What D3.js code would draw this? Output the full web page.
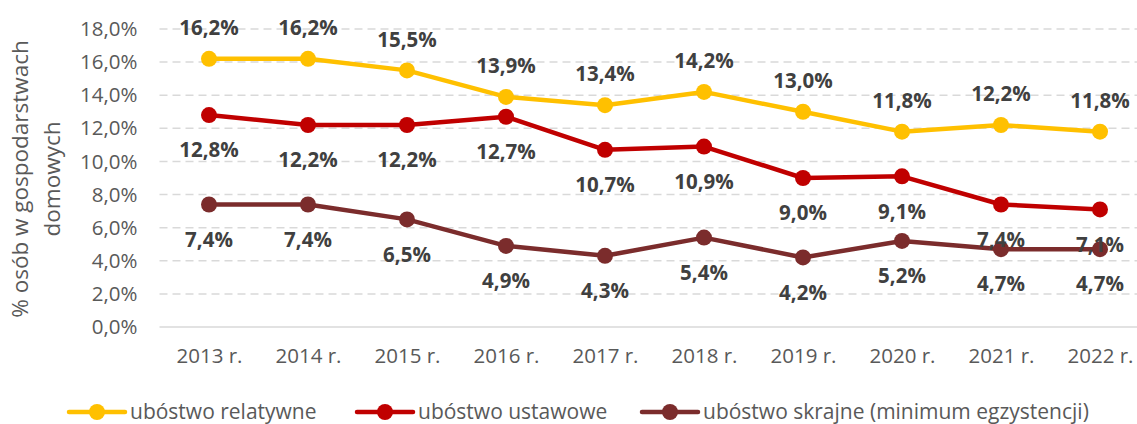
<!DOCTYPE html>
<html><head><meta charset="utf-8">
<script src="https://cdn.jsdelivr.net/npm/d3@7"></script>
<style>body{margin:0;background:#fff}svg{display:block}</style>
</head><body>
<svg id="c" width="1137" height="424"></svg>
<script>
const years = ["2013 r.","2014 r.","2015 r.","2016 r.","2017 r.","2018 r.","2019 r.","2020 r.","2021 r.","2022 r."];
const relatywne = [16.2,16.2,15.5,13.9,13.4,14.2,13.0,11.8,12.2,11.8];
const ustawowe = [12.8,12.2,12.2,12.7,10.7,10.9,9.0,9.1,7.4,7.1];
const skrajne = [7.4,7.4,6.5,4.9,4.3,5.4,4.2,5.2,4.7,4.7];
const yTicks = [0,2,4,6,8,10,12,14,16,18];
const seriesNames = ["ubóstwo relatywne","ubóstwo ustawowe","ubóstwo skrajne (minimum egzystencji)"];
const yTitle = ["% osób w gospodarstwach","domowych"];

const FONT = "'Open Sans', sans-serif";
const svg = d3.select("#c");
const x = d3.scalePoint().domain(years).range([159.5,1149.5]).padding(0.5);
const y = d3.scaleLinear().domain([0,18]).range([327,29]);
const fmt = v => v.toFixed(1).replace(".", ",") + "%";

// grid
svg.append("g").selectAll("line").data(yTicks).join("line")
  .attr("x1",159.5).attr("x2",1149.5)
  .attr("y1",d=>y(d)).attr("y2",d=>y(d))
  .attr("stroke","#d9d9d9").attr("stroke-width",1.5)
  .attr("stroke-dasharray",d=>d===0?null:"8,5");

// y axis
const ya = svg.append("g").attr("transform","translate(159.5,0)")
  .call(d3.axisLeft(y).tickValues(yTicks).tickFormat(fmt).tickSize(0).tickPadding(22));
ya.select(".domain").remove();
ya.selectAll("text").attr("font-family",FONT).attr("font-size",20.5).attr("fill","#595959");

// x axis
const xa = svg.append("g").attr("transform","translate(0,327)")
  .call(d3.axisBottom(x).tickSize(0).tickPadding(21));
xa.select(".domain").remove();
xa.selectAll("text").attr("font-family",FONT).attr("font-size",20.5).attr("fill","#595959");

// y title
const yt = svg.append("text").attr("transform","translate(0,179) rotate(-90)")
  .attr("text-anchor","middle").attr("font-family",FONT).attr("font-size",22.5).attr("fill","#595959");
yt.selectAll("tspan").data(yTitle).join("tspan")
  .attr("x",0).attr("y",(d,i)=>28+i*32).text(d=>d);

const series = [
  {name:seriesNames[0], values:relatywne, color:"#FFC000", dy:-31},
  {name:seriesNames[1], values:ustawowe, color:"#C00000", dy:35},
  {name:seriesNames[2], values:skrajne, color:"#7B2C2C", dy:35}
];

const line = d3.line().x((d,i)=>x(years[i])).y(d=>y(d));
series.forEach(s=>{
  const g = svg.append("g");
  g.append("path").datum(s.values).attr("d",line).attr("fill","none")
    .attr("stroke",s.color).attr("stroke-width",4.5).attr("stroke-linejoin","round");
  g.selectAll("circle").data(s.values).join("circle")
    .attr("cx",(d,i)=>x(years[i])).attr("cy",d=>y(d)).attr("r",8).attr("fill",s.color);
});
series.forEach(s=>{
  svg.append("g").selectAll("text").data(s.values).join("text")
    .attr("x",(d,i)=>x(years[i])).attr("y",d=>y(d)+s.dy)
    .attr("dy","0.35em").attr("text-anchor","middle")
    .attr("font-family",FONT).attr("font-weight","bold").attr("font-size",20.5)
    .attr("fill","#404040").text(fmt);
});

// legend
const legX = [69, 357, 642];
const lg = svg.append("g");
series.forEach((s,i)=>{
  const g = lg.append("g").attr("transform",`translate(${legX[i]},412)`);
  g.append("line").attr("x1",0).attr("x2",56).attr("stroke",s.color).attr("stroke-width",4.5).attr("stroke-linecap","round");
  g.append("circle").attr("cx",28).attr("r",8).attr("fill",s.color);
  g.append("text").attr("x",61).attr("dy","0.35em").attr("font-family",FONT).attr("font-size",21)
    .attr("fill","#595959").text(s.name);
});
</script>
</body></html>
